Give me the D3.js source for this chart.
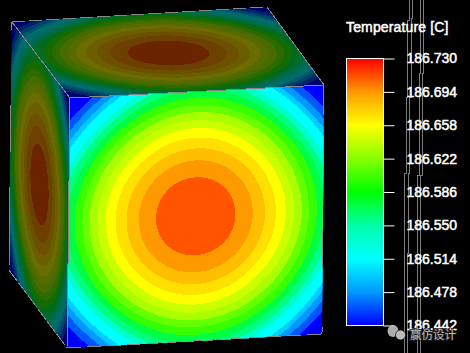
<!DOCTYPE html>
<html>
<head>
<meta charset="utf-8">
<script src="https://cdn.jsdelivr.net/npm/d3@7"></script>
<style>
  html, body { margin: 0; background: #000; overflow: hidden; }
  text { font-family: "Liberation Sans", Arial, sans-serif; fill: #fff; }
</style>
</head>
<body>
<div id="chart"></div>
<script>
const width = 470, height = 353;

// contour bands, centre of the face outwards
const bandTemps = [186.710, 186.694, 186.681, 186.669, 186.658, 186.642, 186.632, 186.613, 186.600,
  186.572, 186.559, 186.536, 186.514, 186.496, 186.478, 186.462, 186.442];
// outer radius of each band as a fraction of the face side, along the face axis and along its diagonal
const axisRadii = [0.156, 0.224, 0.272, 0.315, 0.354, 0.386, 0.417, 0.445, 0.476, 0.508, 0.535, 0.559, 0.598, 0.622, 0.642, 0.661, 2];
const diagRadii = [0.157, 0.224, 0.272, 0.313, 0.350, 0.382, 0.413, 0.441, 0.469, 0.492, 0.516, 0.539, 0.575, 0.594, 0.618, 0.646, 2];

// colour bar
const tickTemps = [186.442, 186.478, 186.514, 186.550, 186.586, 186.622, 186.658, 186.694, 186.730];
const tickColors = ["#0000ff", "#0099ff", "#00ffff", "#00ffaa", "#00ff00", "#88ff00", "#ffff00", "#ff9900", "#ff0000"];

// cube corners as seen on screen: top-left, top-right, bottom-right, bottom-left of each face
const frontCorners = [[70, 98], [324, 85], [322, 334], [67, 348]];
const topCorners = [[12, 22], [267, 7], [324, 85], [70, 98]];
const leftCorners = [[12, 22], [70, 98], [67, 348], [9, 270]];

// the stray grey streaks behind the labels: [y, x]
const streaks = [
  [[0, 409], [20, 409], [97, 407.3], [173, 406], [253, 404.7], [353, 404]],
  [[0, 412.7], [18, 412], [97, 411], [173, 409.5], [253, 408.3], [353, 407.7]],
  [[0, 421], [73, 420], [175, 419], [303, 417.3], [353, 417.3]],
  [[0, 424.3], [73, 423.3], [175, 422.3], [303, 420.7], [353, 420.7]]
];

const svg = d3.select("#chart").append("svg")
  .attr("width", width).attr("height", height)
  .style("display", "block").style("background", "#000");

const color = d3.scaleLinear().domain(tickTemps).range(tickColors);

// bilinear map from face coordinates (0..1) to the screen
const faceMap = (c) => (u, v) => [0, 1].map((i) =>
  (1 - v) * ((1 - u) * c[0][i] + u * c[1][i]) + v * ((1 - u) * c[3][i] + u * c[2][i]));

const angles = d3.range(0, 2 * Math.PI, Math.PI / 90);
const ring = d3.line().curve(d3.curveLinearClosed);

function drawFace(id, corners, shade) {
  const map = faceMap(corners);
  svg.append("clipPath").attr("id", id).append("path").attr("d", ring(corners));
  const g = svg.append("g").attr("clip-path", `url(#${id})`).attr("shape-rendering", "crispEdges");
  const bands = bandTemps.map((t, i) => ({ t, axis: axisRadii[i], diag: diagRadii[i] })).reverse();
  g.selectAll("path").data(bands).join("path")
    .attr("d", (d) => ring(angles.map((a) => {
      const r = d.axis + (d.diag - d.axis) * Math.sin(2 * a) ** 2;
      return map(0.5 + r * Math.cos(a), 0.5 + r * Math.sin(a));
    })))
    .attr("fill", (d) => {
      const c = d3.rgb(color(d.t));
      return d3.rgb(c.r * shade, c.g * shade, c.b * shade);
    });
}

drawFace("top-face", topCorners, 0.42);
drawFace("left-face", leftCorners, 0.42);
drawFace("front-face", frontCorners, 1);

// cube edges, broken the way they are in the screenshot
const edges = [
  [topCorners[0], topCorners[1], "13 4"],
  [topCorners[1], frontCorners[1], null],
  [leftCorners[0], frontCorners[0], null],
  [frontCorners[0], frontCorners[1], null],
  [frontCorners[0], frontCorners[3], null],
  [frontCorners[1], frontCorners[2], "30 115 38 59 7 0"],
  [frontCorners[3], frontCorners[2], "14 6"],
  [leftCorners[3], leftCorners[2], "14 2"],
  [leftCorners[0], leftCorners[3], "8 75 47 35 78 5"]
];
svg.append("g").selectAll("line").data(edges).join("line")
  .attr("x1", (d) => d[0][0]).attr("y1", (d) => d[0][1])
  .attr("x2", (d) => d[1][0]).attr("y2", (d) => d[1][1])
  .attr("stroke", "#868686").attr("stroke-dasharray", (d) => d[2])
  .attr("shape-rendering", "crispEdges");

// streaks
const streakLine = d3.line().x((d) => d[1]).y((d) => d[0]).curve(d3.curveStepAfter);
svg.append("g").selectAll("path").data(streaks).join("path")
  .attr("d", streakLine).attr("fill", "none").attr("stroke", "#7d7d7d")
  .attr("shape-rendering", "crispEdges");

// colour bar
const barX = 346.5, barW = 37;
const y = d3.scaleLinear().domain([186.442, 186.730]).range([325.5, 58.5]);
const grad = svg.append("defs").append("linearGradient").attr("id", "bar")
  .attr("x1", 0).attr("y1", 1).attr("x2", 0).attr("y2", 0);
grad.selectAll("stop").data(tickTemps).join("stop")
  .attr("offset", (d) => (d - tickTemps[0]) / (tickTemps[8] - tickTemps[0]))
  .attr("stop-color", (d) => color(d));
svg.append("rect").attr("x", barX).attr("y", y(186.730)).attr("width", barW)
  .attr("height", y(186.442) - y(186.730)).attr("fill", "url(#bar)")
  .attr("stroke", "#fff");

const axis = d3.axisRight(y).tickValues(tickTemps).tickFormat(d3.format(".3f"))
  .tickSize(11).tickPadding(12);
const ag = svg.append("g").attr("transform", `translate(${barX + barW},0)`).call(axis);
ag.select(".domain").remove();
ag.selectAll("line").attr("stroke", "#fff");
ag.selectAll("text").attr("font-size", 14).attr("font-family", "Liberation Sans")
  .attr("fill", "#fff").attr("stroke", "#fff").attr("stroke-width", 0.5);

svg.append("text").attr("x", 346).attr("y", 32).attr("font-size", 14).attr("letter-spacing", 0.15)
  .attr("stroke", "#fff").attr("stroke-width", 0.5).text("Temperature [C]");

// watermark
const wm = svg.append("g").attr("opacity", 0.85);
wm.append("ellipse").attr("cx", 393).attr("cy", 331).attr("rx", 5.5).attr("ry", 6).attr("fill", "#ccc");
wm.append("ellipse").attr("cx", 400.5).attr("cy", 335).attr("rx", 5).attr("ry", 5).attr("fill", "#ddd")
  .attr("stroke", "#000").attr("stroke-width", 0.7);
wm.append("text").attr("x", 410).attr("y", 339).attr("font-size", 11.5)
  .style("font-family", "'Noto Sans CJK SC'").style("fill", "#d8d8d8")
  .style("stroke", "#222").style("stroke-width", 2).style("paint-order", "stroke").text("赢仿设计");
</script>
</body>
</html>
